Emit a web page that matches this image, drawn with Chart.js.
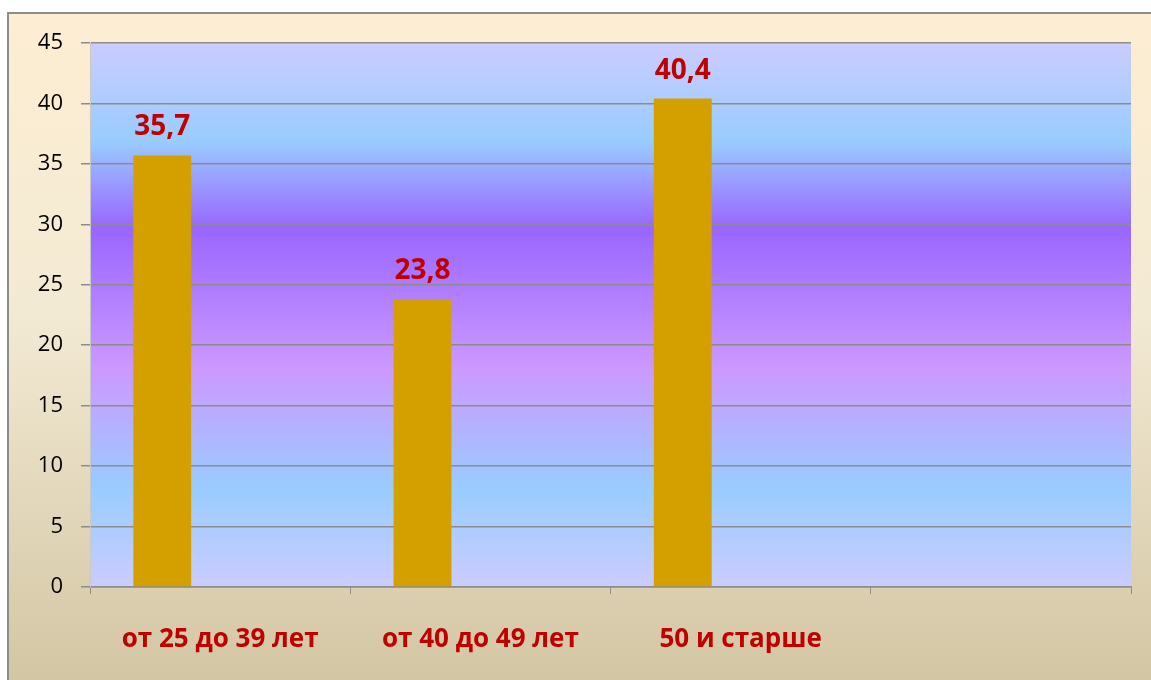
<!DOCTYPE html>
<html>
<head>
<meta charset="utf-8">
<script src="https://cdn.jsdelivr.net/npm/chart.js@4"></script>
<style>
  html, body { margin: 0; padding: 0; background: #fff; }
  #wrap { width: 1151px; height: 680px; }
</style>
</head>
<body>
<div id="wrap"><canvas id="chart" width="1151" height="680"></canvas></div>
<script>
const categories = ['от 25 до 39 лет', 'от 40 до 49 лет', '50 и старше', ''];
const shareValues = [35.7, 23.8, 40.4, null];
// two empty series, the original is a 3-series clustered chart with only one filled
const emptySeriesA = [null, null, null, null];
const emptySeriesB = [null, null, null, null];
const yMin = 0;
const yMax = 45;
const yStep = 5;

const RED = '#C00000';
const BAR = '#D4A000';
const FONT = "'Open Sans'";

function fmt(v) {
  return v.toFixed(1).replace('.', ',');
}

// outer frame + plot area gradient
const backgrounds = {
  id: 'backgrounds',
  beforeDraw(chart) {
    const { ctx, chartArea: a, width, height } = chart;
    ctx.save();
    ctx.fillStyle = '#ffffff';
    ctx.fillRect(0, 0, width, height);

    const outer = ctx.createLinearGradient(0, 13, 0, height);
    outer.addColorStop(0, '#FDEED2');
    outer.addColorStop(0.45, '#F3EAD4');
    outer.addColorStop(1, '#D3C6A4');
    ctx.fillStyle = outer;
    ctx.fillRect(8, 13, width - 8, height - 13);
    ctx.strokeStyle = '#8c8c8c';
    ctx.lineWidth = 2;
    ctx.strokeRect(8, 13, width + 10, height + 10);

    const g = ctx.createLinearGradient(0, a.top, 0, a.bottom);
    g.addColorStop(0, '#CCCCFF');
    g.addColorStop(0.18, '#99CCFF');
    g.addColorStop(0.34, '#9966FF');
    g.addColorStop(0.60, '#CC99FF');
    g.addColorStop(0.82, '#99CCFF');
    g.addColorStop(1, '#CCCCFF');
    ctx.fillStyle = g;
    ctx.fillRect(a.left, a.top, a.right - a.left, a.bottom - a.top);
    ctx.restore();
  },
};

const valueLabels = {
  id: 'valueLabels',
  afterDatasetsDraw(chart) {
    const { ctx } = chart;
    ctx.save();
    ctx.font = "bold 28px " + FONT;
    ctx.fillStyle = RED;
    ctx.textAlign = 'center';
    ctx.textBaseline = 'alphabetic';
    chart.data.datasets.forEach((ds, i) => {
      const meta = chart.getDatasetMeta(i);
      meta.data.forEach((bar, j) => {
        const v = ds.data[j];
        if (v == null) return;
        ctx.fillText(fmt(v), bar.x, bar.y - 20);
      });
    });
    ctx.restore();
  },
};

const mkSeries = (data, color) => ({
  data,
  backgroundColor: color,
  borderWidth: 0,
  categoryPercentage: 0.667,
  barPercentage: 1,
});

new Chart(document.getElementById('chart'), {
  type: 'bar',
  data: {
    labels: categories,
    datasets: [
      mkSeries(shareValues, BAR),
      mkSeries(emptySeriesA, '#4F81BD'),
      mkSeries(emptySeriesB, '#9BBB59'),
    ],
  },
  options: {
    responsive: false,
    animation: false,
    layout: { padding: { left: 30, top: 43, right: 20, bottom: 0 } },
    plugins: {
      legend: { display: false },
      tooltip: { enabled: false },
    },
    scales: {
      x: {
        grid: {
          offset: true,
          drawOnChartArea: false,
          drawTicks: true,
          tickLength: 7,
          tickColor: '#8c8c8c',
        },
        border: { color: '#8c8c8c', width: 1.5 },
        ticks: {
          color: RED,
          font: { family: FONT, size: 26, weight: 'bold' },
          padding: 30,
          maxRotation: 0,
        },
        afterFit(scale) { scale.height = 93; },
      },
      y: {
        min: yMin,
        max: yMax,
        ticks: {
          stepSize: yStep,
          color: '#000',
          font: { family: FONT, size: 22 },
          padding: 18,
        },
        grid: {
          color: '#8c8c8c',
          lineWidth: 1.5,
          tickLength: 9,
          tickColor: '#8c8c8c',
        },
        border: { color: '#c8c8c8', width: 1 },
        afterFit(scale) { scale.width = 60; },
      },
    },
  },
  plugins: [backgrounds, valueLabels],
});
</script>
</body>
</html>
